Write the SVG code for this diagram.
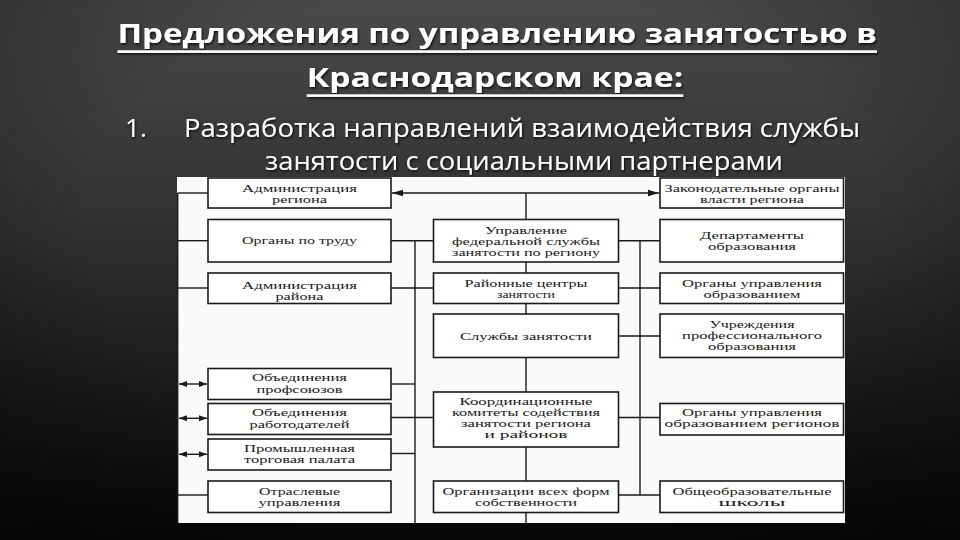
<svg xmlns="http://www.w3.org/2000/svg" width="960" height="540" viewBox="0 0 960 540">
<defs>
<linearGradient id="bg" x1="0" y1="0" x2="0" y2="1">
<stop offset="0" stop-color="#4a4a4a"/>
<stop offset="0.45" stop-color="#2e2e2e"/>
<stop offset="1" stop-color="#080808"/>
</linearGradient>
<radialGradient id="vig" cx="0.5" cy="0.4" r="0.75">
<stop offset="0.55" stop-color="#000" stop-opacity="0"/>
<stop offset="1" stop-color="#000" stop-opacity="0.45"/>
</radialGradient>
<filter id="sh" x="-5%" y="-20%" width="110%" height="140%">
<feDropShadow dx="1" dy="1.5" stdDeviation="1" flood-color="#000" flood-opacity="0.8"/>
</filter>
<marker id="ah" markerUnits="userSpaceOnUse" markerWidth="12" markerHeight="8" refX="11" refY="4" orient="auto-start-reverse">
<path d="M0,0.8 L11,4 L0,7.2 z" fill="#1a1a1a"/>
</marker>
<marker id="sa" markerUnits="userSpaceOnUse" markerWidth="9" markerHeight="7" refX="8" refY="3.5" orient="auto-start-reverse">
<path d="M0,0.5 L8,3.5 L0,6.5 z" fill="#1a1a1a"/>
</marker>
<style>
.title{font-family:"Open Sans","Noto Sans","DejaVu Sans",sans-serif;font-weight:700;font-size:27px;fill:#fff}
.body{font-family:"Open Sans","Noto Sans","DejaVu Sans",sans-serif;font-size:25px;fill:#fff}
.box{fill:#fff;stroke:#1a1a1a;stroke-width:1.6}
.lbl{font-family:"Liberation Serif","Times New Roman",serif;font-size:10px;fill:#1a1a1a;text-anchor:middle}
.ln{stroke:#1a1a1a;stroke-width:1.4;fill:none}
</style>
</defs>

<rect width="960" height="540" fill="url(#bg)"/>
<rect width="960" height="540" fill="url(#vig)"/>

<g id="heading" filter="url(#sh)">
<text class="title" x="117.5" y="43.3" textLength="759.5" lengthAdjust="spacingAndGlyphs">Предложения по управлению занятостью в</text>
<rect x="117.5" y="50.3" width="759.5" height="2.6" fill="#fff"/>
<text class="title" x="306.7" y="87.3" textLength="376.6" lengthAdjust="spacingAndGlyphs">Краснодарском крае:</text>
<rect x="306.7" y="94.3" width="376.6" height="2.6" fill="#fff"/>
<text class="body" x="125" y="136.7" textLength="22" lengthAdjust="spacingAndGlyphs">1.</text>
<text class="body" x="184" y="136.7" textLength="676" lengthAdjust="spacingAndGlyphs">Разработка направлений взаимодействия службы</text>
<text class="body" x="265" y="169.5" textLength="518" lengthAdjust="spacingAndGlyphs">занятости с социальными партнерами</text>
</g>

<rect id="sheet" x="177" y="177" width="668" height="346" fill="#fafafa"/>

<g id="connectors">
<line class="ln" x1="177.7" y1="193" x2="177.7" y2="523"/>
<line class="ln" x1="415" y1="240.7" x2="415" y2="523"/>
<line class="ln" x1="526" y1="193" x2="526" y2="523"/>
<line class="ln" x1="640" y1="240.7" x2="640" y2="495"/>
<line class="ln" x1="392" y1="193" x2="659" y2="193" marker-start="url(#ah)" marker-end="url(#ah)"/>
<line class="ln" x1="177.7" y1="193" x2="208" y2="193"/>
<line class="ln" x1="177.7" y1="240.7" x2="208" y2="240.7"/>
<line class="ln" x1="391" y1="240.7" x2="433.5" y2="240.7"/>
<line class="ln" x1="618.5" y1="240.7" x2="660" y2="240.7"/>
<line class="ln" x1="177.7" y1="288" x2="208" y2="288"/>
<line class="ln" x1="391" y1="288" x2="433.5" y2="288"/>
<line class="ln" x1="618.5" y1="288" x2="660" y2="288"/>
<line class="ln" x1="618.5" y1="336" x2="660" y2="336"/>
<line class="ln" x1="179" y1="384" x2="207" y2="384" marker-start="url(#sa)" marker-end="url(#sa)"/>
<line class="ln" x1="391" y1="384" x2="415" y2="384"/>
<line class="ln" x1="179" y1="418.3" x2="207" y2="418.3" marker-start="url(#sa)" marker-end="url(#sa)"/>
<line class="ln" x1="391" y1="417.5" x2="433.5" y2="417.5"/>
<line class="ln" x1="618.5" y1="417.5" x2="660" y2="417.5"/>
<line class="ln" x1="179" y1="454.3" x2="207" y2="454.3" marker-start="url(#sa)" marker-end="url(#sa)"/>
<line class="ln" x1="391" y1="453.5" x2="415" y2="453.5"/>
<line class="ln" x1="177.7" y1="495" x2="208" y2="495"/>
<line class="ln" x1="618.5" y1="495" x2="660" y2="495"/>
</g>

<g id="adm-region">
<rect class="box" x="208" y="178" width="183" height="30"/>
<text class="lbl" x="299.5" y="192" textLength="115" lengthAdjust="spacingAndGlyphs">Администрация</text>
<text class="lbl" x="299.5" y="203" textLength="55" lengthAdjust="spacingAndGlyphs">региона</text>
</g>
<g id="labour">
<rect class="box" x="208" y="219.5" width="183" height="42.5"/>
<text class="lbl" x="299.5" y="244" textLength="115" lengthAdjust="spacingAndGlyphs">Органы по труду</text>
</g>
<g id="adm-district">
<rect class="box" x="208" y="273" width="183" height="30.5"/>
<text class="lbl" x="299.5" y="288.5" textLength="115" lengthAdjust="spacingAndGlyphs">Администрация</text>
<text class="lbl" x="299.5" y="299.5" textLength="48" lengthAdjust="spacingAndGlyphs">района</text>
</g>
<g id="unions">
<rect class="box" x="208" y="368.5" width="183" height="31"/>
<text class="lbl" x="299.5" y="381" textLength="95" lengthAdjust="spacingAndGlyphs">Объединения</text>
<text class="lbl" x="299.5" y="392.5" textLength="86" lengthAdjust="spacingAndGlyphs">профсоюзов</text>
</g>
<g id="employers">
<rect class="box" x="208" y="403.5" width="183" height="31"/>
<text class="lbl" x="299.5" y="416" textLength="95" lengthAdjust="spacingAndGlyphs">Объединения</text>
<text class="lbl" x="299.5" y="427.5" textLength="100" lengthAdjust="spacingAndGlyphs">работодателей</text>
</g>
<g id="chamber">
<rect class="box" x="208" y="439" width="183" height="31"/>
<text class="lbl" x="299.5" y="451.5" textLength="111" lengthAdjust="spacingAndGlyphs">Промышленная</text>
<text class="lbl" x="299.5" y="463" textLength="111" lengthAdjust="spacingAndGlyphs">торговая палата</text>
</g>
<g id="branch">
<rect class="box" x="208" y="481" width="183" height="31.5"/>
<text class="lbl" x="299.5" y="494.5" textLength="81" lengthAdjust="spacingAndGlyphs">Отраслевые</text>
<text class="lbl" x="299.5" y="506" textLength="82" lengthAdjust="spacingAndGlyphs">управления</text>
</g>

<g id="federal-service">
<rect class="box" x="433.5" y="219.5" width="185" height="42.5"/>
<text class="lbl" x="526" y="233.5" textLength="82" lengthAdjust="spacingAndGlyphs">Управление</text>
<text class="lbl" x="526" y="244.5" textLength="148" lengthAdjust="spacingAndGlyphs">федеральной службы</text>
<text class="lbl" x="526" y="255.5" textLength="148" lengthAdjust="spacingAndGlyphs">занятости по региону</text>
</g>
<g id="district-centres">
<rect class="box" x="433.5" y="273" width="185" height="30.5"/>
<text class="lbl" x="526" y="287" textLength="123" lengthAdjust="spacingAndGlyphs">Районные центры</text>
<text class="lbl" x="526" y="298" textLength="58" lengthAdjust="spacingAndGlyphs">занятости</text>
</g>
<g id="services">
<rect class="box" x="433.5" y="314" width="185" height="43.5"/>
<text class="lbl" x="526" y="339.5" textLength="132" lengthAdjust="spacingAndGlyphs">Службы занятости</text>
</g>
<g id="committees">
<rect class="box" x="433.5" y="392" width="185" height="55"/>
<text class="lbl" x="526" y="405" textLength="133" lengthAdjust="spacingAndGlyphs">Координационные</text>
<text class="lbl" x="526" y="416" textLength="148" lengthAdjust="spacingAndGlyphs">комитеты содействия</text>
<text class="lbl" x="526" y="427" textLength="130" lengthAdjust="spacingAndGlyphs">занятости региона</text>
<text class="lbl" x="526" y="438" textLength="83" lengthAdjust="spacingAndGlyphs">и районов</text>
</g>
<g id="organisations">
<rect class="box" x="433.5" y="481" width="185" height="31.5"/>
<text class="lbl" x="526" y="494.5" textLength="167" lengthAdjust="spacingAndGlyphs">Организации всех форм</text>
<text class="lbl" x="526" y="505.5" textLength="102" lengthAdjust="spacingAndGlyphs">собственности</text>
</g>

<g id="legislature">
<rect class="box" x="660" y="178" width="183.5" height="30"/>
<text class="lbl" x="752" y="191.5" textLength="175" lengthAdjust="spacingAndGlyphs">Законодательные органы</text>
<text class="lbl" x="752" y="202.5" textLength="104" lengthAdjust="spacingAndGlyphs">власти региона</text>
</g>
<g id="edu-departments">
<rect class="box" x="660" y="219.5" width="183.5" height="42.5"/>
<text class="lbl" x="752" y="239" textLength="104" lengthAdjust="spacingAndGlyphs">Департаменты</text>
<text class="lbl" x="752" y="250" textLength="88" lengthAdjust="spacingAndGlyphs">образования</text>
</g>
<g id="edu-authorities">
<rect class="box" x="660" y="273" width="183.5" height="30.5"/>
<text class="lbl" x="752" y="287" textLength="140" lengthAdjust="spacingAndGlyphs">Органы управления</text>
<text class="lbl" x="752" y="298" textLength="97" lengthAdjust="spacingAndGlyphs">образованием</text>
</g>
<g id="vocational">
<rect class="box" x="660" y="314" width="183.5" height="43.5"/>
<text class="lbl" x="752" y="327.5" textLength="85" lengthAdjust="spacingAndGlyphs">Учреждения</text>
<text class="lbl" x="752" y="338.5" textLength="140" lengthAdjust="spacingAndGlyphs">профессионального</text>
<text class="lbl" x="752" y="349.5" textLength="88" lengthAdjust="spacingAndGlyphs">образования</text>
</g>
<g id="regional-edu">
<rect class="box" x="660" y="403.5" width="183.5" height="31.5"/>
<text class="lbl" x="752" y="415.5" textLength="140" lengthAdjust="spacingAndGlyphs">Органы управления</text>
<text class="lbl" x="752" y="427" textLength="175" lengthAdjust="spacingAndGlyphs">образованием регионов</text>
</g>
<g id="schools">
<rect class="box" x="660" y="481" width="183.5" height="31.5"/>
<text class="lbl" x="752" y="494.5" textLength="159" lengthAdjust="spacingAndGlyphs">Общеобразовательные</text>
<text class="lbl" x="752" y="505.5" textLength="67" lengthAdjust="spacingAndGlyphs">школы</text>
</g>
</svg>
